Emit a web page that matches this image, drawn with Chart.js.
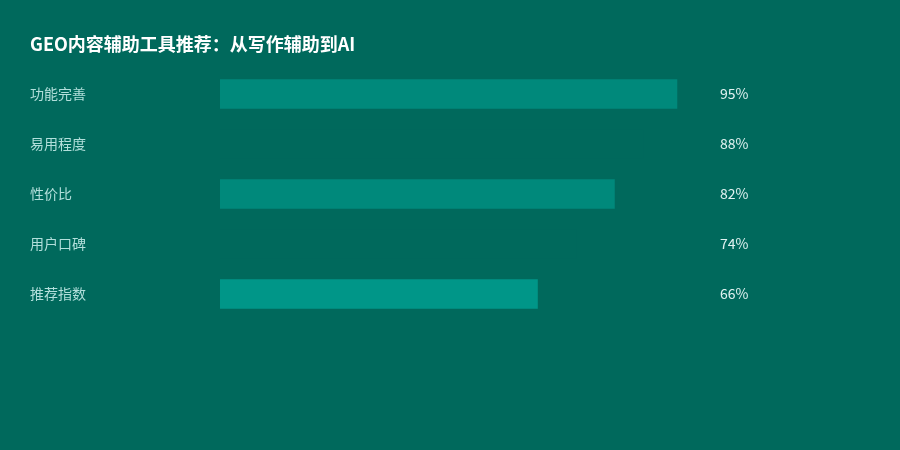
<!DOCTYPE html>
<html>
<head>
<meta charset="utf-8">
<script src="https://cdn.jsdelivr.net/npm/chart.js@4"></script>
<style>
html,body{margin:0;padding:0;background:#00695C;}
#wrap{width:900px;height:450px;}
</style>
</head>
<body>
<div id="wrap"><canvas id="c" width="900" height="450"></canvas></div>
<script>
const categories = ['功能完善', '易用程度', '性价比', '用户口碑', '推荐指数'];
const values = [95, 88, 82, 74, 66];
const valueLabels = ['95%', '88%', '82%', '74%', '66%'];
const barColors = ['#00897B', '#00695C', '#00897B', '#00695C', '#009688'];
const titleText = 'GEO内容辅助工具推荐：从写作辅助到AI';

const FONT = '"Microsoft YaHei", "Noto Sans CJK SC", "Noto Sans", sans-serif';

new Chart(document.getElementById('c'), {
  type: 'bar',
  data: {
    labels: categories,
    datasets: [{
      data: values,
      backgroundColor: barColors,
      borderWidth: 0,
      barThickness: 29,
      yAxisID: 'y'
    }]
  },
  options: {
    indexAxis: 'y',
    responsive: false,
    animation: false,
    devicePixelRatio: 1,
    layout: { padding: { left: 30, right: 0, top: 0, bottom: 131 } },
    plugins: {
      legend: { display: false },
      tooltip: { enabled: false },
      title: {
        display: true,
        text: titleText,
        align: 'start',
        color: '#FFFFFF',
        font: { family: FONT, size: 18, weight: 'bold', lineHeight: 1.2 },
        padding: { top: 33, bottom: 14.4 }
      }
    },
    scales: {
      x: {
        display: false,
        min: 0,
        max: 100
      },
      y: {
        position: 'left',
        grid: { display: false, drawTicks: false },
        border: { display: false },
        ticks: {
          crossAlign: 'far',
          color: '#B2DFDB',
          font: { family: FONT, size: 14 },
          padding: 0
        },
        afterFit: (s) => { s.width = 190; }
      },
      y2: {
        type: 'category',
        position: 'right',
        labels: valueLabels,
        offset: true,
        grid: { display: false, drawTicks: false },
        border: { display: false },
        ticks: {
          crossAlign: 'near',
          color: '#E0F2F1',
          font: { family: FONT, size: 14 },
          padding: 19
        },
        afterFit: (s) => { s.width = 199; }
      }
    }
  }
});
</script>
</body>
</html>
